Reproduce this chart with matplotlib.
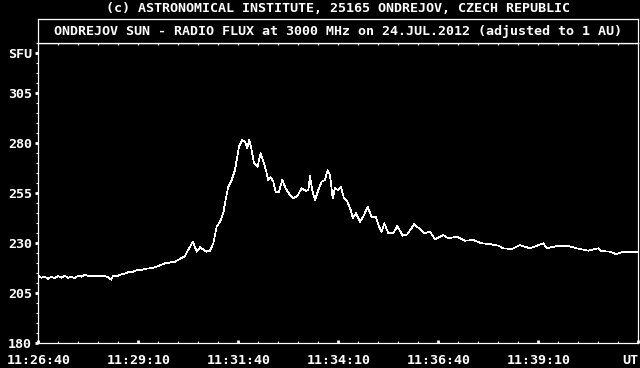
import matplotlib
matplotlib.use("Agg")
import matplotlib.pyplot as plt
import numpy as np

FG = "white"
BG = "black"
FONT = "DejaVu Sans Mono"

# seconds after 11:26:40 UT, flux in SFU
seconds = [0, 4.5, 9.6, 14.6, 19.5, 24.6, 29.6, 34.5, 39.6, 44.6, 49.5, 54.6,
           59.6, 64.5, 69.6, 74.6, 79.5, 89.6, 97, 104.5, 109.5, 112, 119.6,
           124.5, 129.6, 134.6, 142, 147, 154.5, 159.6, 167, 172, 178.5, 190,
           205, 220, 224.5, 232, 237.6, 242.5, 252.6, 257.5, 262.5, 267.6,
           272.5, 277.5, 280, 285, 290, 295, 297.6, 301, 306, 310, 313.5,
           316.5, 320, 323.5, 328.8, 333.6, 337.5, 341.5, 345, 348.6, 352.5,
           356, 361, 366, 371, 375, 382.5, 388.5, 395, 401.5, 405, 407.5, 411,
           415, 420, 425, 430, 434, 437.5, 441.6, 445, 450, 454, 458.5, 463.5,
           468.6, 471.6, 476.5, 482.5, 488.5, 494, 500, 506, 511, 515, 519,
           525, 532.5, 538.5, 546.6, 553.5, 564, 572.5, 579, 587.5, 595,
           607.5, 615, 627.6, 640, 652.5, 665, 677.5, 690, 697.5, 710, 722.5,
           737.5, 757.5, 762.5, 777.5, 792.5, 807.5, 825, 840, 845, 857.5,
           866.5, 877.5, 890, 900]
flux = [213.8, 212.8, 213.3, 212.2, 213.3, 212.5, 213.7, 212.8, 213.7, 212.8,
        213.3, 212.5, 213.8, 213.3, 214.2, 213.7, 213.8, 213.7, 213.8, 213.2,
        211.8, 213.8, 213.8, 214.5, 214.8, 215.5, 215.8, 216.5, 216.5, 217.2,
        217.5, 217.8, 218.5, 220, 220.8, 223.6, 226.6, 230.8, 225.8, 228,
        225.8, 226.3, 230, 238.3, 240.8, 245, 250, 258.3, 261.6, 266.6, 271.6,
        278.3, 281.6, 280.8, 277.5, 281.6, 276.6, 270, 268.3, 275, 270.8,
        266.6, 261.6, 263, 260.8, 255.8, 255.8, 261.6, 257.5, 255.3, 252.5,
        253.6, 257.5, 256.3, 256.6, 263.6, 256.6, 251.6, 256.6, 260.8, 261.6,
        266.6, 264.1, 252.5, 257.5, 256.6, 258.3, 252.5, 250.8, 246.6, 242.5,
        245, 240.8, 244.1, 248.3, 243.3, 243.3, 238.3, 235.8, 240, 235, 235,
        238.6, 233.8, 234.5, 239.6, 237, 235, 235.8, 232, 234.1, 232.5, 233.3,
        231.3, 231.6, 230, 229.6, 228.8, 227.5, 227.1, 229.1, 227.5, 230,
        227.5, 228.6, 228.8, 227.5, 226.3, 227.5, 226.1, 225.8, 224.6, 225.8,
        225.8, 225.8]

x_ticks = [0, 150, 300, 450, 600, 750]
x_labels = ["11:26:40", "11:29:10", "11:31:40", "11:34:10", "11:36:40", "11:39:10"]
y_ticks = [180, 205, 230, 255, 280, 305]

W, H = 640, 368
L, R, T, B = 38.3, 638.3, 43.3, 343.3

fig = plt.figure(figsize=(W / 100, H / 100), dpi=100, facecolor=BG)
ax = fig.add_axes([L / W, 1 - B / H, (R - L) / W, (B - T) / H], facecolor=BG)

ax.plot(seconds, flux, color=FG, lw=0.5, antialiased=False)
ax.set_xlim(0, 900)
ax.set_ylim(180, 330)

for s in ax.spines.values():
    s.set_color(FG)
    s.set_linewidth(0.9)

ax.set_xticks(x_ticks + [900])
ax.set_xticklabels(x_labels + [""])
ax.set_xticks(np.arange(0, 901, 30), minor=True)
ax.set_yticks(y_ticks + [325])
ax.set_yticklabels([str(v) for v in y_ticks] + ["SFU"])
ax.set_yticks(np.arange(180, 331, 5), minor=True)

ax.tick_params(axis="x", which="major", direction="in", length=2.2, width=2,
               color=FG, labelcolor=FG, pad=8, labelsize=9.6)
ax.tick_params(axis="x", which="minor", direction="in", length=1.6, width=0.8,
               color=FG)
ax.tick_params(axis="y", which="major", direction="out", length=2.2, width=2,
               color=FG, labelcolor=FG, pad=2.5, labelsize=9.6)
ax.tick_params(axis="y", which="minor", direction="out", length=1.2, width=0.8,
               color=FG)
for lab in ax.get_xticklabels() + ax.get_yticklabels():
    lab.set_fontfamily(FONT)
    lab.set_fontweight("bold")

# top ticks, all the same size
top = ax.secondary_xaxis("top")
top.set_xticks(np.arange(0, 901, 30))
top.set_xticklabels([])
top.tick_params(direction="in", length=1.6, width=0.8, color=FG)
top.spines["top"].set_color(FG)

fig.text(R / W, 1 - 360 / H, "UT", ha="right", va="center", color=FG,
         fontsize=9.6, family=FONT, fontweight="bold")

# title box above the plot
tb = fig.add_axes([L / W, 1 - T / H, (R - L) / W, 24 / H], facecolor=BG)
tb.set_xticks([])
tb.set_yticks([])
for s in tb.spines.values():
    s.set_color(FG)
    s.set_linewidth(0.9)
tb.text(0.5, 0.48, "ONDREJOV SUN - RADIO FLUX at 3000 MHz on 24.JUL.2012 (adjusted to 1 AU)",
        ha="center", va="center", color=FG, fontsize=9.6, family=FONT,
        fontweight="bold", transform=tb.transAxes)

fig.text((L + R) / 2 / W, 1 - 8.5 / H,
         "(c) ASTRONOMICAL INSTITUTE, 25165 ONDREJOV, CZECH REPUBLIC",
         ha="center", va="center", color=FG, fontsize=9.6, family=FONT,
         fontweight="bold")

fig.savefig("out.png", dpi=100, facecolor=BG)
